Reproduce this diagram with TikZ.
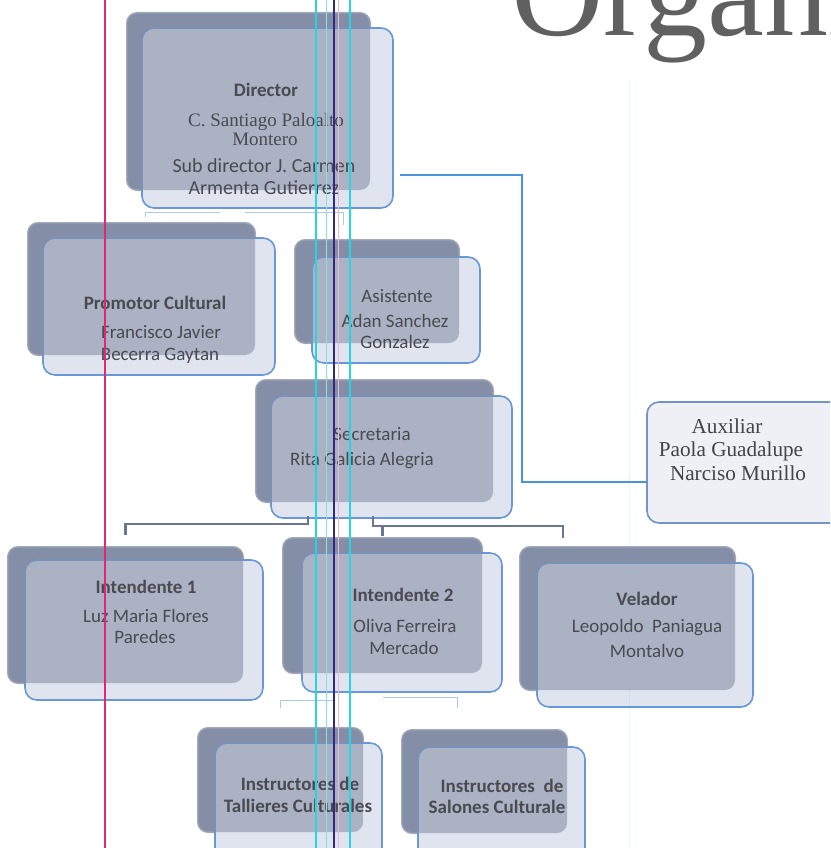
\documentclass[tikz,border=0pt]{standalone}
\usepackage{fontspec}
\setmainfont{Liberation Serif}
\newfontfamily\sansf{Carlito}
\usetikzlibrary{fit}
\definecolor{backcol}{RGB}{132,142,166}
\definecolor{frontcol}{RGB}{224,228,239}
\definecolor{bordercol}{RGB}{104,152,216}
\definecolor{txtcol}{RGB}{74,74,80}
\definecolor{titlecol}{RGB}{96,96,96}
\definecolor{linkcol}{RGB}{74,148,222}
\definecolor{brkcol}{RGB}{104,118,152}
\definecolor{faintcol}{RGB}{172,202,236}
\definecolor{magline}{RGB}{222,40,120}
\definecolor{cyanline}{RGB}{40,212,226}
\definecolor{navyline}{RGB}{44,44,132}
\begin{document}
\begin{tikzpicture}[x=1pt,y=-1pt,
  backbox/.style={fit={#1}, inner sep=0pt, outer sep=0pt, rounded corners=10pt,
    fill=backcol, draw=backcol!75!white, line width=2pt},
  frontbox/.style={fit={#1}, inner sep=0pt, outer sep=0pt, rounded corners=12pt,
    fill=frontcol, draw=bordercol, line width=1.6pt},
  tint/.style={fill=backcol, fill opacity=0.58, rounded corners=10pt},
  lbl/.style={font=\sansf\fontsize{19}{22}\selectfont, text=txtcol, anchor=base, inner sep=0pt},
  bl/.style={lbl, font=\sansf\bfseries\fontsize{19}{22}\selectfont},
  ll/.style={lbl, font=\sansf\fontsize{20}{22}\selectfont},
  sl/.style={lbl, font=\fontsize{19}{22}\selectfont},
  al/.style={lbl, font=\fontsize{21.2}{24}\selectfont, text=txtcol!90!black},
  link/.style={draw=linkcol, line width=1.5pt},
  brk/.style={draw=brkcol, line width=2.2pt},
  faint/.style={draw=faintcol, line width=1pt},
  vline/.style={line width=1.1pt}
]
\useasboundingbox (0,0) rectangle (830,848);
\clip (0,0) rectangle (830,848);
\fill[white] (0,0) rectangle (830,848);

% title (cut off by the page edge, as in the reference)
\node[font=\fontsize{128}{128}\selectfont, anchor=base west, text=titlecol, inner sep=0pt] (title) at (511,36) {Organigrama};

% faint connectors
\draw[faint] (145,217) -- (145,212) -- (220,212);
\draw[faint] (245,212) -- (343,212) -- (343,225);
\draw[faint] (280,708) -- (280,700) -- (333,700);
\draw[faint] (383,697) -- (457,697) -- (457,708);

% Director
\node[backbox={(127,13) (370,190)}] (dirB) {};
\node[frontbox={(142,28) (393,208)}] (dir) {};
\fill[tint] (dirB.north west) rectangle (dirB.south east);
\node[bl] (dir1) at (266,97) {Director};
\node[sl] (dir2) at (266,126) {C. Santiago Paloalto};
\node[sl] (dir3) at (265,146) {Montero};
\node[ll] (dir4) at (264,172) {Sub director J. Carmen};
\node[ll] (dir5) at (264,194) {Armenta Gutierrez};

% Promotor
\node[backbox={(28,223) (255,355)}] (proB) {};
\node[frontbox={(43,238) (275,375)}] (pro) {};
\fill[tint] (proB.north west) rectangle (proB.south east);
\node[bl] (pro1) at (155,309) {Promotor Cultural};
\node[lbl] (pro2) at (161,338) {Francisco Javier};
\node[lbl] (pro3) at (160,360) {Becerra Gaytan};

% Asistente
\node[backbox={(295,240) (459,343)}] (asiB) {};
\node[frontbox={(312,257) (480,363)}] (asi) {};
\fill[tint] (asiB.north west) rectangle (asiB.south east);
\node[lbl] (asi1) at (397,302) {Asistente};
\node[lbl] (asi2) at (395,327) {Adan Sanchez};
\node[lbl] (asi3) at (395,348) {Gonzalez};

% Secretaria
\node[backbox={(256,380) (493,502)}] (secB) {};
\node[frontbox={(271,396) (512,518)}] (sec) {};
\fill[tint] (secB.north west) rectangle (secB.south east);
\node[lbl] (sec1) at (372,440) {Secretaria};
\node[lbl] (sec2) at (362,465) {Rita Galicia Alegria};

% Auxiliar
\node[frontbox={(647,402) (880,523)}, fill=frontcol!55!white, draw=bordercol!60!backcol] (aux) {};
\node[al] (aux1) at (727,433) {Auxiliar};
\node[al] (aux2) at (731,456) {Paola Guadalupe};
\node[al] (aux3) at (738,480) {Narciso Murillo};

% Intendente 1
\node[backbox={(8,547) (243,683)}] (in1B) {};
\node[frontbox={(25,560) (263,700)}] (in1) {};
\fill[tint] (in1B.north west) rectangle (in1B.south east);
\node[bl] (in11) at (146,593) {Intendente 1};
\node[lbl] (in12) at (146,622) {Luz Maria Flores};
\node[lbl] (in13) at (145,643) {Paredes};

% Intendente 2
\node[backbox={(283,538) (482,673)}] (in2B) {};
\node[frontbox={(302,553) (502,692)}] (in2) {};
\fill[tint] (in2B.north west) rectangle (in2B.south east);
\node[bl] (in21) at (403,601) {Intendente 2};
\node[lbl] (in22) at (405,632) {Oliva Ferreira};
\node[lbl] (in23) at (404,654) {Mercado};

% Velador
\node[backbox={(520,547) (735,690)}] (velB) {};
\node[frontbox={(537,563) (753,707)}] (vel) {};
\fill[tint] (velB.north west) rectangle (velB.south east);
\node[bl] (vel1) at (647,605) {Velador};
\node[lbl] (vel2) at (647,632) {Leopoldo~~Paniagua};
\node[lbl] (vel3) at (647,657) {Montalvo};

% Instructores de Talleres
\node[backbox={(198,728) (363,832)}] (talB) {};
\node[frontbox={(215,743) (382,862)}] (tal) {};
\fill[tint] (talB.north west) rectangle (talB.south east);
\node[bl] (tal1) at (300,790) {Instructores de};
\node[bl] (tal2) at (298,812) {Tallieres Culturales};

% Instructores de Salones
\node[backbox={(402,730) (567,833)}] (salB) {};
\node[frontbox={(418,747) (585,862)}] (sal) {};
\fill[tint] (salB.north west) rectangle (salB.south east);
\node[bl] (sal1) at (502,792) {Instructores~~de};
\node[bl] (sal2) at (497,813) {Salones Culturale};

% connectors between named boxes
\draw[link] ([shift={(7,57)}]dir.east) -| ([shift={(-125,19.5)}]aux.west) -- ([shift={(0,19.5)}]aux.west);
\draw[brk] ([shift={(-83.5,-2)}]sec.south) -- ++(0,8) -| ([shift={(0,-12)}]in1B.north);
\draw[brk] ([shift={(-18.5,-2)}]sec.south) -- ++(0,10) -| ([shift={(-64.5,-9)}]velB.north);
\draw[brk] ([shift={(0,-12)}]in2B.north) -- ([shift={(0,-2)}]in2B.north);

% scan guide lines
\draw[vline, magline] (105,0) -- (105,848);
\draw[vline, cyanline] (316,0) -- (316,848);
\draw[vline, cyanline!60!white, line width=0.8pt] (326,0) -- (326,848);
\draw[vline, navyline, line width=1.3pt] (334,0) -- (334,848);
\draw[vline, magline!35!white, line width=0.6pt] (338,0) -- (338,848);
\draw[vline, cyanline] (350,0) -- (350,848);
\draw[cyanline, draw opacity=0.12, line width=0.8pt] (629,80) -- (629,848);
\end{tikzpicture}
\end{document}
